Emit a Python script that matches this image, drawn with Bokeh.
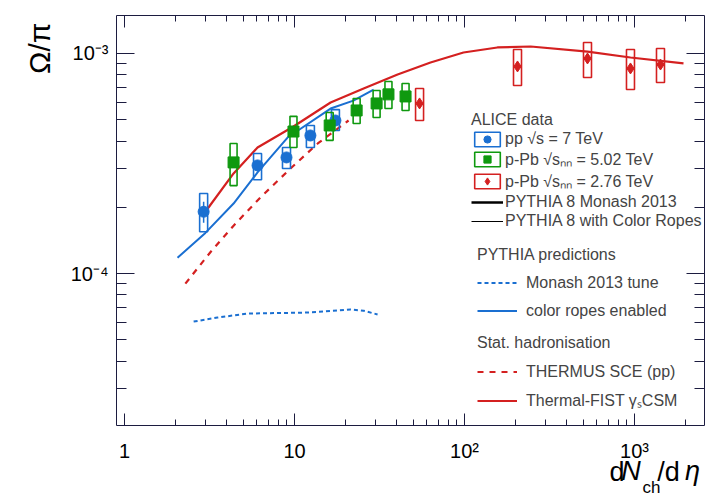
import math
from bokeh.plotting import figure
from bokeh.models import (LogAxis, LinearAxis, FixedTicker, CustomJSTickFormatter,
                          Legend, LegendItem, Range1d, LinearScale)
from bokeh.embed import file_html
from bokeh.resources import INLINE

# ---------------- data ----------------
pp_x = [2.92, 6.06, 8.97, 12.4, 17.4]
pp_y = [1.91e-4, 3.10e-4, 3.37e-4, 4.24e-4, 4.96e-4]
pp_sys_lo = [1.55e-4, 2.67e-4, 3.00e-4, 3.74e-4, 4.47e-4]
pp_sys_hi = [2.31e-4, 3.51e-4, 3.74e-4, 4.71e-4, 5.56e-4]
pp_stat = [2.1e-5, 1.0e-5, 1.0e-5, 1.1e-5, 1.1e-5]

ppb5_x = [4.38, 9.86, 16.1, 23.2, 30.4, 35.7, 45.0]
ppb5_y = [3.20e-4, 4.42e-4, 4.71e-4, 5.51e-4, 5.93e-4, 6.52e-4, 6.38e-4]
ppb5_sys_lo = [2.51e-4, 3.74e-4, 4.03e-4, 4.81e-4, 5.12e-4, 5.62e-4, 5.51e-4]
ppb5_sys_hi = [3.90e-4, 5.18e-4, 5.39e-4, 6.24e-4, 6.79e-4, 7.46e-4, 7.31e-4]
ppb5_stat = [1.2e-5, 1.2e-5, 1.2e-5, 1.2e-5, 1.3e-5, 1.4e-5, 1.4e-5]

ppb276_x = [54.4, 205, 529, 947, 1422]
ppb276_y = [5.93e-4, 8.73e-4, 9.49e-4, 8.55e-4, 8.91e-4]
ppb276_sys_lo = [4.96e-4, 7.15e-4, 7.78e-4, 6.86e-4, 7.38e-4]
ppb276_sys_hi = [6.93e-4, 1.043e-3, 1.122e-3, 1.043e-3, 1.054e-3]
ppb276_stat = [2.0e-5, 3.0e-5, 3.0e-5, 3.0e-5, 3.0e-5]

fist_x = [3.08, 4.38, 6.06, 9.86, 16.3, 25.5, 40.4, 63.1, 98.6, 156, 245, 529, 947, 1942]
fist_y = [1.97e-4, 2.85e-4, 3.74e-4, 4.66e-4, 5.99e-4, 6.93e-4, 8.03e-4, 9.10e-4,
          1.01e-3, 1.065e-3, 1.076e-3, 1.02e-3, 9.59e-4, 9.01e-4]

ropes_x = [2.05, 2.99, 4.38, 6.06, 9.1, 16.3, 22.2, 29.2]
ropes_y = [1.18e-4, 1.53e-4, 2.08e-4, 2.88e-4, 4.15e-4, 5.62e-4, 6.11e-4, 6.86e-4]

thermus_x = [2.28, 3.2, 4.38, 6.31, 9.47, 13.7, 20.8]
thermus_y = [9.0e-5, 1.25e-4, 1.65e-4, 2.22e-4, 3.0e-4, 3.9e-4, 4.96e-4]

monash_x = [2.55, 3.52, 5.29, 11.9, 21.4, 25.5, 30.8]
monash_y = [6.05e-5, 6.31e-5, 6.58e-5, 6.65e-5, 6.86e-5, 6.78e-5, 6.52e-5]

x_ticks = [1, 10, 100, 1000]
x_tick_labels = ["1", "10", "10²", "10³"]
y_ticks = [1e-4, 1e-3]
y_tick_labels = ["10⁻⁴", "10⁻³"]

# ---------------- styles ----------------
FONT = "Liberation Sans"
BLUE = "#1a6fd1"
GREEN = "#0f990f"
RED = "#d42020"
AXC = "#1c1c40"

p = figure(width=706, height=499, x_axis_type="log", y_axis_type="log",
           x_range=(0.897, 2581), y_range=(2.04e-5, 1.488e-3),
           output_backend="svg", toolbar_location=None,
           min_border_left=116, min_border_right=2, min_border_top=15,
           min_border_bottom=74)
p.xgrid.visible = False
p.ygrid.visible = False
p.outline_line_color = None
p.background_fill_color = "white"
p.border_fill_color = "white"


def minor_list(lo_exp, hi_exp):
    return [m * 10.0 ** e for e in range(lo_exp, hi_exp + 1) for m in range(2, 10)]


def fmt(tv, tl):
    return CustomJSTickFormatter(args=dict(tvals=tv, tlabs=tl), code="""
        for (let i = 0; i < tvals.length; i++) {
            if (Math.abs(Math.log10(tick) - Math.log10(tvals[i])) < 1e-6) return tlabs[i];
        }
        return "";
    """)


def lin_fmt(tv, tl):
    return CustomJSTickFormatter(args=dict(tvals=tv, tlabs=tl), code="""
        for (let i = 0; i < tvals.length; i++) {
            if (Math.abs(tick - tvals[i]) < 1e-6) return tlabs[i];
        }
        return "";
    """)


def hide_ticks(ax):
    ax.axis_line_color = None
    ax.major_tick_line_color = None
    ax.minor_tick_line_color = None
    ax.major_tick_in = 0
    ax.major_tick_out = 0
    ax.minor_tick_in = 0
    ax.minor_tick_out = 0


blank = CustomJSTickFormatter(code="return '';")
xt = FixedTicker(ticks=x_ticks, minor_ticks=minor_list(0, 3))
yt = FixedTicker(ticks=y_ticks, minor_ticks=minor_list(-5, -3))

# bottom / left
xa = p.xaxis[0]
xa.ticker = xt
xa.formatter = fmt(x_ticks, x_tick_labels)
ya = p.yaxis[0]
ya.ticker = yt
ya.formatter = fmt(y_ticks, y_tick_labels)
for ax, mj, mn in ((xa, 12, 6), (ya, 18, 10)):
    ax.major_tick_in = mj
    ax.major_tick_out = 0
    ax.minor_tick_in = mn
    ax.minor_tick_out = 0
    ax.axis_line_color = AXC
    ax.major_tick_line_color = AXC
    ax.minor_tick_line_color = AXC
    ax.major_label_text_font = FONT
    ax.major_label_text_font_size = "20px"
    ax.major_label_text_color = "black"
xa.major_label_standoff = 14
ya.major_label_standoff = 8

# top / right
top = LogAxis(ticker=xt, formatter=blank)
right = LogAxis(ticker=yt, formatter=blank)
for ax, mj, mn in ((top, 12, 6), (right, 18, 10)):
    ax.major_tick_in = mj
    ax.major_tick_out = 0
    ax.minor_tick_in = mn
    ax.minor_tick_out = 0
    ax.major_label_standoff = 0
    ax.major_label_text_font_size = "1px"
    ax.axis_line_color = AXC
    ax.major_tick_line_color = AXC
    ax.minor_tick_line_color = AXC
p.add_layout(top, "above")
p.add_layout(right, "right")

# ---------------- axis titles (rich text via label-only axes) ----------------
p.extra_x_ranges = {"px": Range1d(0, 588)}
p.extra_x_scales = {"px": LinearScale()}
p.extra_y_ranges = {"py": Range1d(0, 410)}
p.extra_y_scales = {"py": LinearScale()}

title_axes = [
    # (tick positions in px, texts, font size, style, standoff)
    ([500.5, 552.0], ["d", "/d"], "27px", "normal", -8),
    ([514.5, 576.0], ["N", "η"], "27px", "italic", -34),
    ([535.0], ["ch"], "17px", "normal", -12),
]
for tv, tl, fs, st, so in title_axes:
    ax = LinearAxis(x_range_name="px", ticker=FixedTicker(ticks=tv, minor_ticks=[]),
                    formatter=lin_fmt(tv, tl))
    hide_ticks(ax)
    ax.major_label_standoff = so
    ax.major_label_text_font = FONT
    ax.major_label_text_font_size = fs
    ax.major_label_text_font_style = st
    ax.major_label_text_color = "black"
    p.add_layout(ax, "below")

ytitle = LinearAxis(y_range_name="py", ticker=FixedTicker(ticks=[403.0], minor_ticks=[]),
                    formatter=lin_fmt([403.0], ["Ω/π"]))
hide_ticks(ytitle)
ytitle.major_label_orientation = math.pi / 2
ytitle.major_label_standoff = 28
ytitle.major_label_text_font = FONT
ytitle.major_label_text_font_size = "30px"
ytitle.major_label_text_color = "black"
p.add_layout(ytitle, "left")

# ---------------- curves ----------------
r_monash = p.line(monash_x, monash_y, line_color=BLUE, line_width=2, line_dash="4 3")
r_ropes = p.line(ropes_x, ropes_y, line_color=BLUE, line_width=2)
r_thermus = p.line(thermus_x, thermus_y, line_color=RED, line_width=2.2, line_dash="6 6")
r_fist = p.line(fist_x, fist_y, line_color=RED, line_width=2.2)


# ---------------- data points ----------------
def half_px(px):
    return 10 ** (px / 170.0)


def draw_set(xs, ys, lo, hi, stat, color, marker, size, half):
    f = half_px(half)
    box = p.quad(left=[x / f for x in xs], right=[x * f for x in xs],
                 bottom=lo, top=hi, fill_alpha=0, line_color=color, line_width=1.6)
    p.segment(x0=xs, x1=xs, y0=[y - s for y, s in zip(ys, stat)],
              y1=[y + s for y, s in zip(ys, stat)], line_color=color, line_width=1.5)
    pts = p.scatter(xs, ys, marker=marker, size=size, fill_color=color, line_color=color)
    return box, pts


pp_box, pp_pts = draw_set(pp_x, pp_y, pp_sys_lo, pp_sys_hi, pp_stat, BLUE, "circle", 11, 4)
p5_box, p5_pts = draw_set(ppb5_x, ppb5_y, ppb5_sys_lo, ppb5_sys_hi, ppb5_stat, GREEN, "square", 11, 3.5)
p2_box, p2_pts = draw_set(ppb276_x, ppb276_y, ppb276_sys_lo, ppb276_sys_hi, ppb276_stat, RED, "diamond", 11, 4)

# legend-only proxies (NaN data: nothing drawn in the plot area)
nan = float("nan")
r_mon_proxy = p.line([nan], [nan], line_color="black", line_width=2.5)
r_rope_proxy = p.line([nan], [nan], line_color="black", line_width=1)

common = dict(padding=0, margin=0, background_fill_alpha=0, border_line_color=None,
              label_text_font=FONT, label_text_font_size="16px",
              title_text_font=FONT, title_text_font_size="16px",
              title_text_font_style="normal", label_height=19)

leg1 = Legend(items=[
    LegendItem(label="pp √s = 7 TeV", renderers=[pp_box, pp_pts]),
    LegendItem(label="p-Pb √sₙₙ = 5.02 TeV", renderers=[p5_box, p5_pts]),
    LegendItem(label="p-Pb √sₙₙ = 2.76 TeV", renderers=[p2_box, p2_pts]),
    LegendItem(label="PYTHIA 8 Monash 2013", renderers=[r_mon_proxy]),
    LegendItem(label="PYTHIA 8 with Color Ropes", renderers=[r_rope_proxy]),
], title="ALICE data", location=(355, 195), glyph_width=32, glyph_height=18,
    label_standoff=2, spacing=0, title_standoff=0, **common)

leg2 = Legend(items=[
    LegendItem(label="Monash 2013 tune", renderers=[r_monash]),
    LegendItem(label="color ropes enabled", renderers=[r_ropes]),
], title="PYTHIA predictions", location=(361, 105), glyph_width=40, glyph_height=15,
    label_standoff=9, spacing=9, title_standoff=9, **common)

leg3 = Legend(items=[
    LegendItem(label="THERMUS SCE (pp)", renderers=[r_thermus]),
    LegendItem(label="Thermal-FIST γₛCSM", renderers=[r_fist]),
], title="Stat. hadronisation", location=(361, 14), glyph_width=40, glyph_height=15,
    label_standoff=9, spacing=8, title_standoff=10, **common)

for lg in (leg1, leg2, leg3):
    p.add_layout(lg)

open("out.html", "w").write(file_html(p, INLINE))
